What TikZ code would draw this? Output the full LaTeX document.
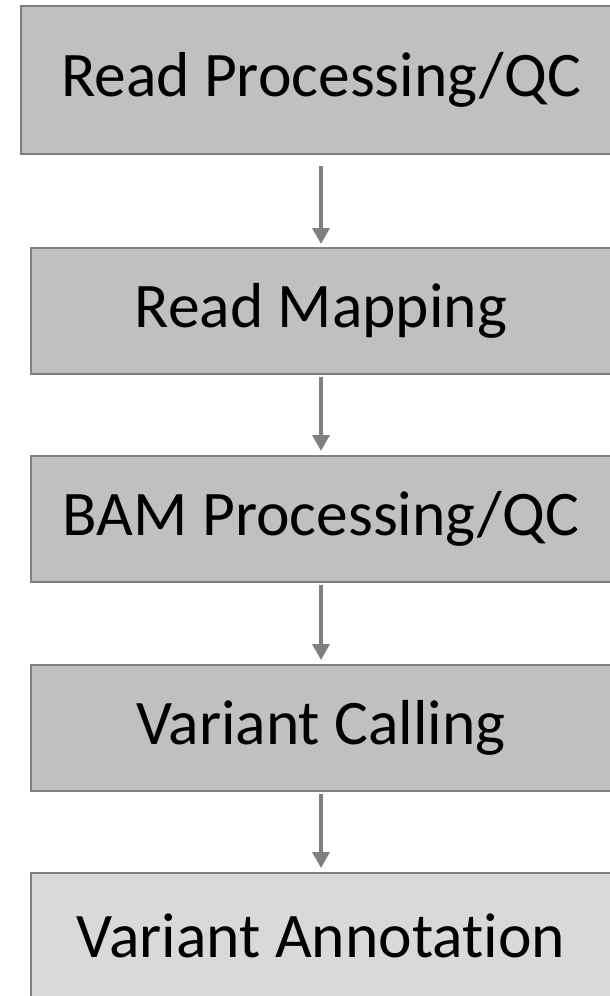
\documentclass[tikz,border=0pt]{standalone}
\usepackage{fontspec}
\setmainfont{Carlito}[Ligatures=NoCommon]
\usetikzlibrary{arrows.meta,positioning}
\definecolor{boxgray}{RGB}{192,192,192}
\definecolor{boxlight}{RGB}{217,217,217}
\definecolor{edgegray}{RGB}{127,127,127}
\begin{document}
\begin{tikzpicture}[
  every node/.style={font=\fontsize{63.5}{70}\selectfont},
  stage/.style={draw=edgegray,line width=2pt,fill=boxgray,outer sep=0pt,
                minimum width=580pt,minimum height=126pt,inner sep=0pt},
  laststage/.style={stage,fill=boxlight},
  flow/.style={-{Triangle[length=16pt,width=17pt]},edgegray,line width=3.5pt}]
\useasboundingbox (0,0) rectangle (610pt,-996pt);
\clip (0,0) rectangle (610pt,-996pt);
\node[stage,minimum width=600pt,minimum height=148pt] (rqc) at (321pt,-80pt) {Read Processing/QC};
\node[stage,below=94pt of rqc] (map) {Read Mapping};
\node[stage,below=82pt of map] (bam) {BAM Processing/QC};
\node[stage,below=83pt of bam] (call) {Variant Calling};
\node[laststage,below=82pt of call] (annot) {Variant Annotation};
\draw[flow,shorten <=12pt,shorten >=4pt] (rqc) -- (map);
\foreach \a/\b in {map/bam,bam/call,call/annot}
  \draw[flow,shorten <=3pt,shorten >=5pt] (\a) -- (\b);
\end{tikzpicture}
\end{document}
